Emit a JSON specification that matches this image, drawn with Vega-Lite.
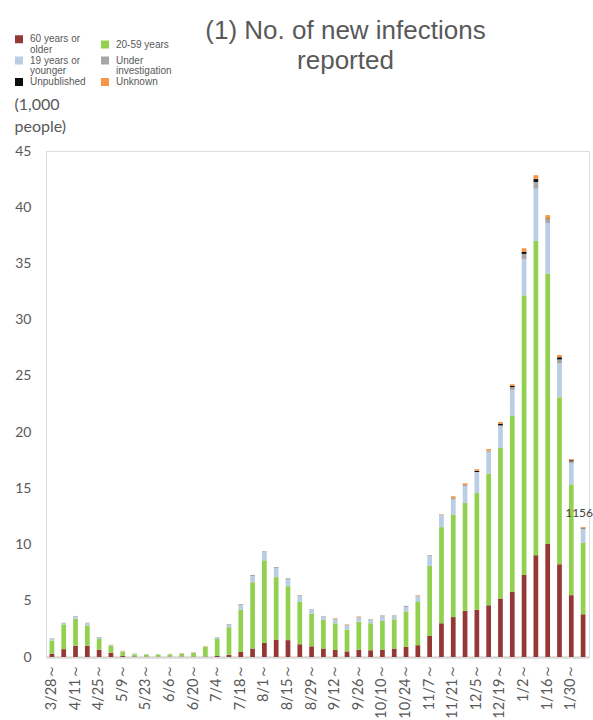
{
  "$schema": "https://vega.github.io/schema/vega-lite/v6.json",
  "autosize": "none",
  "width": 543,
  "height": 506,
  "padding": {"left": 46, "top": 151, "right": 4, "bottom": 63},
  "background": "white",
  "title": {
    "text": ["(1) No. of new infections", "reported"],
    "font": "Liberation Sans",
    "fontSize": 26,
    "fontWeight": "normal",
    "color": "#595959",
    "anchor": "middle",
    "dx": 28,
    "dy": 50,
    "lineHeight": 30,
    "offset": 10
  },
  "data": {
    "values": [
      {"w": "3/28", "a": 0.3, "b": 1.15, "c": 0.15, "d": 0.05, "e": 0, "f": 0},
      {"w": "4/4", "a": 0.7, "b": 2.2, "c": 0.1, "d": 0.05, "e": 0, "f": 0},
      {"w": "4/11", "a": 1.0, "b": 2.4, "c": 0.2, "d": 0.05, "e": 0, "f": 0},
      {"w": "4/18", "a": 1.0, "b": 1.8, "c": 0.2, "d": 0.05, "e": 0, "f": 0},
      {"w": "4/25", "a": 0.65, "b": 0.95, "c": 0.12, "d": 0.06, "e": 0, "f": 0},
      {"w": "5/2", "a": 0.38, "b": 0.62, "c": 0.05, "d": 0.02, "e": 0, "f": 0.02},
      {"w": "5/9", "a": 0.12, "b": 0.33, "c": 0.05, "d": 0, "e": 0, "f": 0.05},
      {"w": "5/16", "a": 0.05, "b": 0.2, "c": 0.04, "d": 0.02, "e": 0, "f": 0},
      {"w": "5/23", "a": 0.03, "b": 0.2, "c": 0.03, "d": 0, "e": 0, "f": 0},
      {"w": "5/30", "a": 0.03, "b": 0.2, "c": 0.04, "d": 0, "e": 0, "f": 0},
      {"w": "6/6", "a": 0.03, "b": 0.2, "c": 0.03, "d": 0.02, "e": 0, "f": 0},
      {"w": "6/13", "a": 0.03, "b": 0.27, "c": 0.03, "d": 0.02, "e": 0, "f": 0},
      {"w": "6/20", "a": 0.04, "b": 0.33, "c": 0.03, "d": 0, "e": 0, "f": 0.03},
      {"w": "6/27", "a": 0.04, "b": 0.86, "c": 0.05, "d": 0, "e": 0, "f": 0.03},
      {"w": "7/4", "a": 0.1, "b": 1.5, "c": 0.1, "d": 0.05, "e": 0, "f": 0},
      {"w": "7/11", "a": 0.2, "b": 2.45, "c": 0.2, "d": 0.07, "e": 0, "f": 0},
      {"w": "7/18", "a": 0.45, "b": 3.75, "c": 0.4, "d": 0.1, "e": 0, "f": 0},
      {"w": "7/25", "a": 0.75, "b": 5.9, "c": 0.55, "d": 0.1, "e": 0, "f": 0},
      {"w": "8/1", "a": 1.25, "b": 7.35, "c": 0.7, "d": 0.1, "e": 0, "f": 0},
      {"w": "8/8", "a": 1.55, "b": 5.55, "c": 0.8, "d": 0.1, "e": 0, "f": 0},
      {"w": "8/15", "a": 1.5, "b": 4.8, "c": 0.6, "d": 0.1, "e": 0, "f": 0},
      {"w": "8/22", "a": 1.13, "b": 3.77, "c": 0.5, "d": 0.1, "e": 0, "f": 0},
      {"w": "8/29", "a": 0.95, "b": 2.9, "c": 0.35, "d": 0.05, "e": 0, "f": 0},
      {"w": "9/5", "a": 0.75, "b": 2.55, "c": 0.3, "d": 0.05, "e": 0, "f": 0},
      {"w": "9/12", "a": 0.63, "b": 2.37, "c": 0.33, "d": 0.07, "e": 0, "f": 0.05},
      {"w": "9/19", "a": 0.5, "b": 1.95, "c": 0.35, "d": 0.05, "e": 0, "f": 0.05},
      {"w": "9/26", "a": 0.65, "b": 2.5, "c": 0.35, "d": 0.05, "e": 0, "f": 0.05},
      {"w": "10/3", "a": 0.6, "b": 2.4, "c": 0.25, "d": 0.1, "e": 0, "f": 0},
      {"w": "10/10", "a": 0.65, "b": 2.55, "c": 0.4, "d": 0.1, "e": 0, "f": 0},
      {"w": "10/17", "a": 0.75, "b": 2.6, "c": 0.25, "d": 0.1, "e": 0, "f": 0},
      {"w": "10/24", "a": 0.9, "b": 3.15, "c": 0.4, "d": 0.1, "e": 0, "f": 0},
      {"w": "10/31", "a": 1.05, "b": 3.9, "c": 0.45, "d": 0.05, "e": 0, "f": 0.05},
      {"w": "11/7", "a": 1.9, "b": 6.2, "c": 0.85, "d": 0.1, "e": 0, "f": 0},
      {"w": "11/14", "a": 3.0, "b": 8.55, "c": 1.05, "d": 0.05, "e": 0, "f": 0.05},
      {"w": "11/21", "a": 3.55, "b": 9.1, "c": 1.35, "d": 0.15, "e": 0, "f": 0.15},
      {"w": "11/28", "a": 4.1, "b": 9.6, "c": 1.5, "d": 0.1, "e": 0, "f": 0.15},
      {"w": "12/5", "a": 4.2, "b": 10.4, "c": 1.85, "d": 0, "e": 0.1, "f": 0.15},
      {"w": "12/12", "a": 4.6, "b": 11.7, "c": 1.95, "d": 0.1, "e": 0, "f": 0.15},
      {"w": "12/19", "a": 5.2, "b": 13.4, "c": 1.9, "d": 0.1, "e": 0.15, "f": 0.15},
      {"w": "12/26", "a": 5.8, "b": 15.65, "c": 2.3, "d": 0.25, "e": 0.1, "f": 0.16},
      {"w": "1/2", "a": 7.3, "b": 24.85, "c": 3.25, "d": 0.45, "e": 0.2, "f": 0.3},
      {"w": "1/9", "a": 9.05, "b": 27.95, "c": 4.65, "d": 0.6, "e": 0.25, "f": 0.35},
      {"w": "1/16", "a": 10.05, "b": 24.05, "c": 4.5, "d": 0.35, "e": 0.05, "f": 0.3},
      {"w": "1/23", "a": 8.25, "b": 14.85, "c": 3.0, "d": 0.35, "e": 0.2, "f": 0.2},
      {"w": "1/30", "a": 5.5, "b": 9.85, "c": 1.9, "d": 0.15, "e": 0.1, "f": 0.1},
      {"w": "2/6", "a": 3.8, "b": 6.35, "c": 1.2, "d": 0.1, "e": 0.05, "f": 0.05}
    ]
  },
  "transform": [{"fold": ["a", "b", "c", "d", "e", "f"], "as": ["key", "value"]}],
  "encoding": {
    "x": {
      "field": "w",
      "type": "nominal",
      "sort": null,
      "scale": {"paddingInner": 0.6, "paddingOuter": 0.3},
      "axis": {
        "title": null,
        "values": ["3/28", "4/11", "4/25", "5/9", "5/23", "6/6", "6/20", "7/4", "7/18", "8/1", "8/15", "8/29", "9/12", "9/26", "10/10", "10/24", "11/7", "11/21", "12/5", "12/19", "1/2", "1/16", "1/30"],
        "labelExpr": "datum.value + '～'",
        "labelAngle": -90,
        "labelAlign": "right",
        "labelBaseline": "middle",
        "labelPadding": 6,
        "labelFont": "Lato",
        "labelFontSize": 14.5,
        "labelColor": "#595959",
        "ticks": false,
        "domainColor": "#d9d9d9",
        "domainWidth": 2.5,
        "grid": false
      }
    }
  },
  "layer": [
    {
      "mark": {"type": "bar"},
      "encoding": {
        "y": {
          "field": "value",
          "type": "quantitative",
          "stack": "zero",
          "scale": {"domain": [0, 45], "nice": false},
          "axis": {
            "values": [0, 5, 10, 15, 20, 25, 30, 35, 40, 45],
            "grid": false,
            "domain": false,
            "ticks": false,
            "labelPadding": 15,
            "labelFont": "Lato",
            "labelFontSize": 14,
            "labelColor": "#595959",
            "title": ["(1,000", "people)"],
            "titleAngle": 0,
            "titleAlign": "left",
            "titleBaseline": "top",
            "titleX": -32,
            "titleY": -55,
            "titleFont": "Lato",
            "titleFontSize": 16,
            "titleFontWeight": "normal",
            "titleColor": "#595959",
            "titleLineHeight": 22
          }
        },
        "color": {
          "field": "key",
          "type": "nominal",
          "scale": {
            "domain": ["a", "b", "c", "d", "e", "f"],
            "range": ["#953735", "#92D050", "#B9CDE5", "#A6A6A6", "#0D0D0D", "#F79646"]
          },
          "legend": {
            "orient": "none",
            "legendX": -32,
            "legendY": -117,
            "columns": 2,
            "direction": "horizontal",
            "title": null,
            "symbolType": "square",
            "symbolSize": 64,
            "symbolStrokeWidth": 0,
            "labelFont": "Liberation Sans",
            "labelFontSize": 10,
            "labelColor": "#595959",
            "labelOffset": 6,
            "labelLimit": 100,
            "columnPadding": 14,
            "rowPadding": 0.5,
            "labelExpr": "datum.value == 'a' ? ['60 years or', 'older'] : datum.value == 'b' ? '20-59 years' : datum.value == 'c' ? ['19 years or', 'younger'] : datum.value == 'd' ? ['Under', 'investigation'] : datum.value == 'e' ? 'Unpublished' : 'Unknown'",
            "encode": {"labels": {"update": {"lineHeight": {"value": 10.5}}}}
          }
        },
        "order": {"field": "key", "sort": "ascending"}
      }
    },
    {
      "transform": [{"filter": "datum.w == '2/6'"}],
      "mark": {"type": "text", "font": "Lato", "fontSize": 12, "color": "#404040", "dy": -14, "dx": -4},
      "encoding": {
        "y": {"aggregate": "sum", "field": "value", "type": "quantitative"},
        "text": {"value": "1156"}
      }
    }
  ]
}
